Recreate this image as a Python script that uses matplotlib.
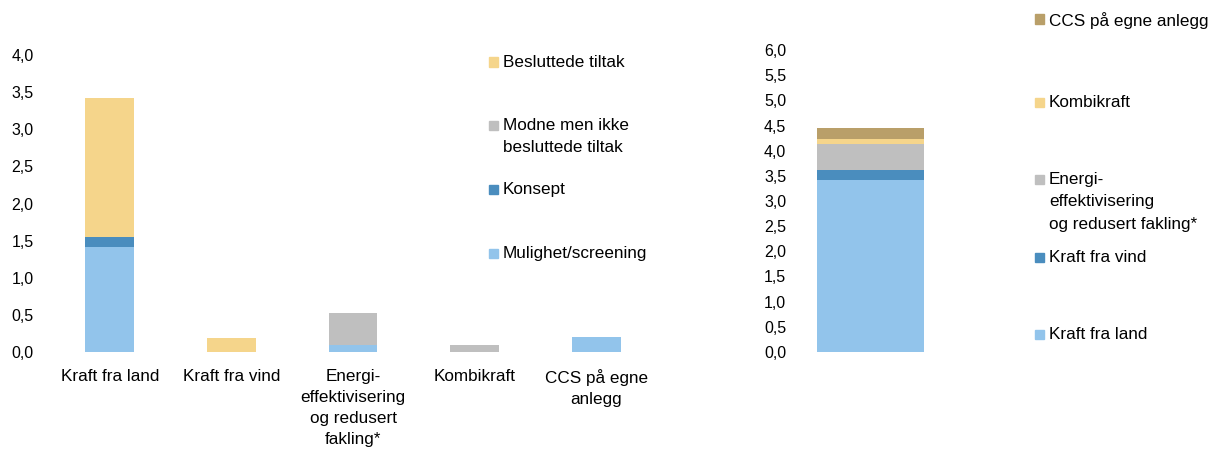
import matplotlib.pyplot as plt
import numpy as np

plt.rcParams['font.family'] = ['Liberation Sans', 'DejaVu Sans']
plt.rcParams['font.size'] = 12.3

# Left chart: reductions per measure, split by maturity
categories = ['Kraft fra land', 'Kraft fra vind', 'Energi-\neffektivisering\nog redusert\nfakling*',
              'Kombikraft', 'CCS på egne\nanlegg']
mulighet = [1.41, 0.0, 0.09, 0.0, 0.20]
konsept = [0.14, 0.0, 0.0, 0.0, 0.0]
modne = [0.0, 0.0, 0.44, 0.09, 0.0]
besluttede = [1.87, 0.19, 0.0, 0.0, 0.0]

# Right chart: totals per measure, stacked
total_names = ['Kraft fra land', 'Kraft fra vind', 'Energi-\neffektivisering\nog redusert fakling*',
               'Kombikraft', 'CCS på egne anlegg']
total_values = [3.42, 0.19, 0.53, 0.09, 0.22]

c_light = '#92C4EB'
c_dark = '#4A8DBE'
c_gray = '#BFBFBF'
c_yellow = '#F5D58B'
c_tan = '#B99F69'

fig = plt.figure(figsize=(12.29, 4.5), dpi=100)

# ---- left chart
ax1 = fig.add_axes([49 / 1229, 98 / 450, 608 / 1229, 297 / 450])
x = np.arange(len(categories))
w = 0.4
bottom = np.zeros(len(categories))
for vals, col in [(mulighet, c_light), (konsept, c_dark), (modne, c_gray), (besluttede, c_yellow)]:
    ax1.bar(x, vals, w, bottom=bottom, color=col)
    bottom += np.array(vals)
ax1.set_xlim(-0.5, len(categories) - 0.5)
ax1.set_ylim(0, 4)
ax1.set_yticks(np.arange(0, 4.01, 0.5))
ax1.set_yticklabels([f'{v:.1f}'.replace('.', ',') for v in np.arange(0, 4.01, 0.5)], fontsize=11.5)
ax1.set_xticks(x)
ax1.set_xticklabels(categories, linespacing=1.5, va='top')
ax1.tick_params(axis='x', length=0, pad=12)
ax1.tick_params(axis='y', length=0, pad=11)
for s in ax1.spines.values():
    s.set_visible(False)

# ---- right chart
ax2 = fig.add_axes([800 / 1229, 98 / 450, 141 / 1229, 302 / 450])
b = 0
for val, col in zip(total_values, [c_light, c_dark, c_gray, c_yellow, c_tan]):
    ax2.bar(0, val, 0.76, bottom=b, color=col)
    b += val
ax2.set_xlim(-0.5, 0.5)
ax2.set_ylim(0, 6)
yt = np.arange(0, 6.01, 0.5)
ax2.set_yticks(yt)
ax2.set_yticklabels([f'{v:.1f}'.replace('.', ',') for v in yt], fontsize=11.5)
ax2.set_xticks([])
ax2.tick_params(length=0, pad=10)
for s in ax2.spines.values():
    s.set_visible(False)


def legend_entry(px, py, col, label):
    # px, py: pixel position (from top-left) of first text line centre
    sq = 9
    fig.patches.append(plt.Rectangle(((px - 14) / 1229, (450 - py - sq / 2) / 450),
                                     sq / 1229, sq / 450, color=col,
                                     transform=fig.transFigure, figure=fig))
    fig.text(px / 1229, (450 - py + 7) / 450, label, va='top', ha='left', linespacing=1.62)


legend_entry(503, 62, c_yellow, 'Besluttede tiltak')
legend_entry(503, 125, c_gray, 'Modne men ikke\nbesluttede tiltak')
legend_entry(503, 189, c_dark, 'Konsept')
legend_entry(503, 253, c_light, 'Mulighet/screening')

right_y = [334, 257, 179, 102, 19]
for name, col, py in zip(total_names, [c_light, c_dark, c_gray, c_yellow, c_tan], right_y):
    legend_entry(1049, py, col, name)

fig.savefig('out.png', dpi=100)
